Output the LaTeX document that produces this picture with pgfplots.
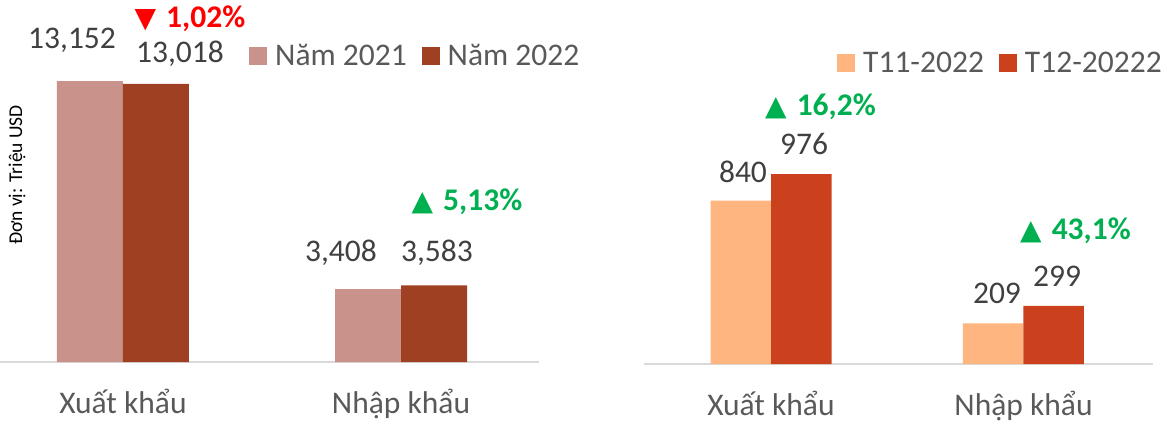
\documentclass[border=0pt]{standalone}
\usepackage{pgfplots}
\pgfplotsset{compat=1.18}
\usepackage{fontspec}
\setmainfont{Carlito}
\newfontfamily\symfont{DejaVu Sans}
\definecolor{cA}{HTML}{C9928A}
\definecolor{cB}{HTML}{A04022}
\definecolor{cC}{HTML}{FFB580}
\definecolor{cD}{HTML}{CC411D}
\definecolor{numgray}{HTML}{404040}
\definecolor{labgray}{HTML}{595959}
\definecolor{upgreen}{HTML}{00B050}
\definecolor{downred}{HTML}{FF0000}
\definecolor{basegray}{HTML}{D9D9D9}
\newcommand{\bigf}{\fontsize{31.5}{36}\selectfont}
\newcommand{\tri}[2]{{\color{#1}\symfont\fontsize{28}{30}\selectfont #2}}
\pgfplotsset{
  mybar/.style={
    scale only axis, anchor=south west, clip=false,
    axis line style={draw=none}, ytick=\empty, xtick={0,1},
    xticklabels={Xuất khẩu, Nhập khẩu},
    major tick length=0pt, ymin=0,
    xticklabel style={font=\bigf, text=labgray, anchor=base, yshift=-51pt},
    legend columns=2, legend cell align=left,
    legend style={draw=none, fill=none, inner sep=0pt, font=\bigf, text=labgray,
      nodes={inner sep=0pt},
      /tikz/every odd column/.append style={column sep=8pt},
      /tikz/every even column/.append style={column sep=15pt}},
  },
  sq/.style={legend image code/.code={\fill[#1] (0pt,-9pt) rectangle (18pt,9pt);}},
}
\begin{document}
\begin{tikzpicture}
\useasboundingbox (0pt,0pt) rectangle (1167pt,-423pt);
% Left chart
\begin{axis}[mybar, at={(0pt,-362pt)}, width=539pt, height=299.1pt,
  xmin=-0.442, xmax=1.496, ymax=14000,
  legend style={at={(axis cs:0.4532,14323)}, anchor=west}]
\draw[basegray, line width=2pt] (rel axis cs:0,0) -- (rel axis cs:1,0);
\addplot[ybar, fill=cA, draw=none, bar width=0.2374, bar shift=-0.1187, sq={cA}]
  coordinates {(0,13152) (1,3408)};
\addplot[ybar, fill=cB, draw=none, bar width=0.2374, bar shift=0.1187, sq={cB}]
  coordinates {(0,13018) (1,3583)};
\legend{Năm 2021, Năm 2022}
\node[font=\bigf, text=numgray] at (axis cs:-0.183,15071) {13,152};
\node[font=\bigf, text=numgray] at (axis cs:0.205,14416) {13,018};
\node[font=\bigf, text=numgray] at (axis cs:0.784,5102) {3,408};
\node[font=\bigf, text=numgray] at (axis cs:1.129,5102) {3,583};
\node[font=\bigf\bfseries, text=downred] at (axis cs:0.241,16054) {\tri{downred}{▼}\hspace{10pt}1,02\%};
\node[font=\bigf\bfseries, text=upgreen] at (axis cs:1.237,7489) {\tri{upgreen}{▲}\hspace{10pt}5,13\%};
\node[rotate=90, font=\fontsize{19.5}{22}\selectfont, text=black] at (axis cs:-0.381,8753) {Đơn vị: Triệu USD};
\end{axis}
% Right chart
\begin{axis}[mybar, at={(644pt,-364pt)}, width=509pt, height=291.75pt,
  xmin=-0.503, xmax=1.513, ymax=1500,
  legend style={at={(axis cs:0.2614,1548)}, anchor=west}]
\draw[basegray, line width=2pt] (rel axis cs:0,0) -- (rel axis cs:1,0);
\addplot[ybar, fill=cC, draw=none, bar width=0.2396, bar shift=-0.1198, sq={cC}]
  coordinates {(0,840) (1,209)};
\addplot[ybar, fill=cD, draw=none, bar width=0.2396, bar shift=0.1198, sq={cD}]
  coordinates {(0,976) (1,299)};
\legend{T11-2022, T12-20222}
\node[font=\bigf, text=numgray] at (axis cs:-0.111,987) {840};
\node[font=\bigf, text=numgray] at (axis cs:0.131,1131) {976};
\node[font=\bigf, text=numgray] at (axis cs:0.895,365) {209};
\node[font=\bigf, text=numgray] at (axis cs:1.133,452) {299};
\node[font=\bigf\bfseries, text=upgreen] at (axis cs:0.196,1321) {\tri{upgreen}{▲}\hspace{10pt}16,2\%};
\node[font=\bigf\bfseries, text=upgreen] at (axis cs:1.206,684) {\tri{upgreen}{▲}\hspace{10pt}43,1\%};
\end{axis}
\end{tikzpicture}
\end{document}
